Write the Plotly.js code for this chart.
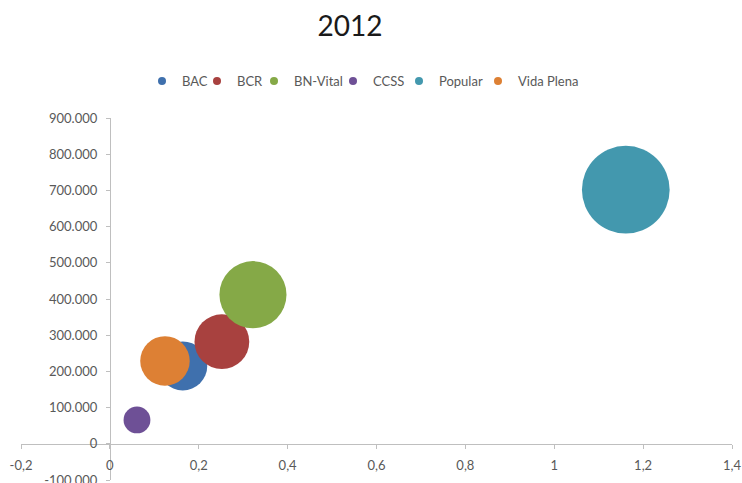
<!DOCTYPE html>
<html>
<head>
<meta charset="utf-8">
<script src="https://cdn.plot.ly/plotly-3.0.1.min.js"></script>
<style>html,body{margin:0;padding:0;background:#fff;}#chart{width:742px;height:483px;}</style>
</head>
<body>
<div id="chart"></div>
<script>
// Data (year 2012)
const seriesNames = ['BAC', 'BCR', 'BN-Vital', 'CCSS', 'Popular', 'Vida Plena'];
const xValues = [0.164, 0.252, 0.322, 0.061, 1.161, 0.124];
const yValues = [215000, 282000, 412000, 66000, 702000, 229000];
const bubbleSizes = [2400, 3000, 4500, 720, 7700, 2450];
const seriesColors = ['#3F70AD', '#A8413F', '#85A947', '#6E5096', '#4398AE', '#DD8034'];

const xTickVals = [-0.2, 0, 0.2, 0.4, 0.6, 0.8, 1, 1.2, 1.4];
const xTickText = ['-0,2', '0', '0,2', '0,4', '0,6', '0,8', '1', '1,2', '1,4'];
const yTickVals = [-100000, 0, 100000, 200000, 300000, 400000, 500000, 600000, 700000, 800000, 900000];
const yTickText = ['-100.000', '0', '100.000', '200.000', '300.000', '400.000', '500.000', '600.000', '700.000', '800.000', '900.000'];

const xRange = [-0.2, 1.4];
const yRange = [-100000, 900000];

const FONT = 'Lato, "Open Sans", "Liberation Sans", sans-serif';
const W = 742, H = 483;

// horizontal position (px) where each legend entry's text starts
const legendTextX = [182, 237, 294, 373, 439, 518];
const legendIds = ['legend', 'legend2', 'legend3', 'legend4', 'legend5', 'legend6'];

const traces = [];

// legend entries (small markers, as in the reference legend)
seriesNames.forEach((name, i) => {
  traces.push({
    type: 'scatter', mode: 'markers', name: name,
    x: [null], y: [null],
    legendgroup: name, showlegend: true, legend: legendIds[i],
    marker: {size: 8, color: seriesColors[i]},
    hoverinfo: 'skip'
  });
});

// bubbles
seriesNames.forEach((name, i) => {
  traces.push({
    type: 'scatter', mode: 'markers', name: name,
    x: [xValues[i]], y: [yValues[i]],
    legendgroup: name, showlegend: false, legend: legendIds[i],
    marker: {
      size: [bubbleSizes[i]], sizemode: 'area', sizeref: 2,
      color: seriesColors[i], opacity: 1, line: {width: 0}
    }
  });
});

const layout = {
  width: W, height: H,
  paper_bgcolor: '#ffffff', plot_bgcolor: '#ffffff',
  margin: {l: 21, r: 10, t: 118, b: 3},
  font: {family: FONT, color: '#595959', size: 13},
  title: {
    text: '2012', font: {family: FONT, size: 28, color: '#1a1a1a'},
    xref: 'container', x: 350 / W, xanchor: 'center',
    yref: 'container', y: 1 - 26 / H, yanchor: 'middle'
  },
  showlegend: true,
  xaxis: {
    range: xRange, anchor: 'free', position: (0 - yRange[0]) / (yRange[1] - yRange[0]),
    showgrid: false, zeroline: false,
    showline: true, linecolor: '#BFBFBF', linewidth: 1,
    ticks: 'outside', ticklen: 4, tickcolor: '#BFBFBF',
    tickmode: 'array', tickvals: xTickVals, ticktext: xTickText,
    tickfont: {family: FONT, size: 13, color: '#595959'},
    ticklabelstandoff: 6, ticklabeloverflow: 'allow'
  },
  yaxis: {
    range: yRange, anchor: 'free', position: (0 - xRange[0]) / (xRange[1] - xRange[0]),
    showgrid: false, zeroline: false,
    showline: true, linecolor: '#BFBFBF', linewidth: 1,
    ticks: 'outside', ticklen: 4, tickcolor: '#BFBFBF',
    tickmode: 'array', tickvals: yTickVals, ticktext: yTickText,
    tickfont: {family: FONT, size: 13, color: '#595959'},
    ticklabelstandoff: 6, ticklabeloverflow: 'allow'
  }
};

legendIds.forEach((id, i) => {
  layout[id] = {
    orientation: 'h', xref: 'container', yref: 'container',
    x: (legendTextX[i] - 40) / W, xanchor: 'left',
    y: 1 - 81 / H, yanchor: 'middle',
    font: {family: FONT, size: 13, color: '#595959'},
    itemwidth: 30, bgcolor: 'rgba(0,0,0,0)', borderwidth: 0
  };
});

Plotly.newPlot('chart', traces, layout, {displayModeBar: false, staticPlot: true});
</script>
</body>
</html>
